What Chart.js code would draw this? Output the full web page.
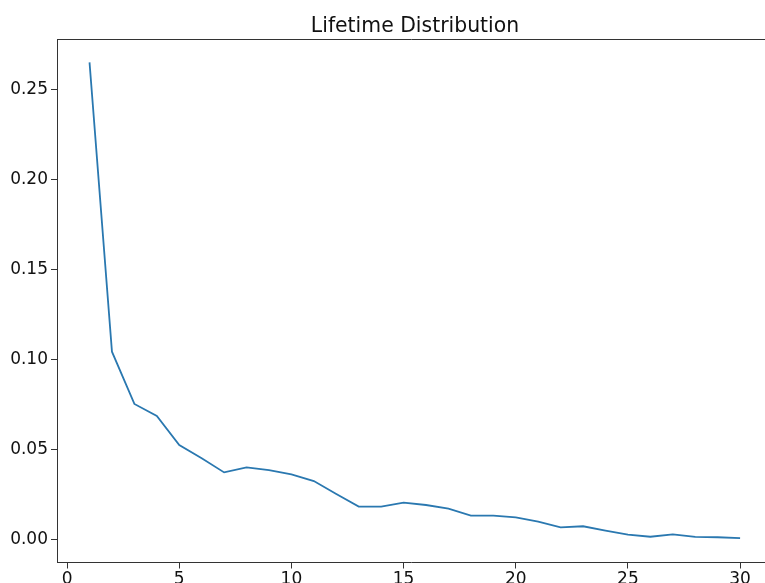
<!DOCTYPE html>
<html>
<head>
<meta charset="utf-8">
<script src="https://cdn.jsdelivr.net/npm/chart.js@4.4.1/dist/chart.umd.min.js"></script>
<style>
  html, body { margin: 0; padding: 0; background: #fff; overflow: hidden; }
</style>
</head>
<body>
<canvas id="lifetime" width="765" height="583"></canvas>
<script>
const days = [1, 2, 3, 4, 5, 6, 7, 8, 9, 10, 11, 12, 13, 14, 15,
              16, 17, 18, 19, 20, 21, 22, 23, 24, 25, 26, 27, 28, 29, 30];
const share = [0.265, 0.1045, 0.0755, 0.0688, 0.0527, 0.0453, 0.0375, 0.0403, 0.0388, 0.0364,
               0.0327, 0.0255, 0.0185, 0.0185, 0.0207, 0.0194, 0.0174, 0.0135, 0.0135, 0.0125,
               0.0102, 0.007, 0.0076, 0.0052, 0.003, 0.0018, 0.0031, 0.0017, 0.0015, 0.001];
const xTicks = [0, 5, 10, 15, 20, 25, 30];
const yTicks = [0, 0.05, 0.10, 0.15, 0.20, 0.25];

const points = days.map((d, i) => ({ x: d, y: share[i] }));
const tickFont = { family: 'DejaVu Sans', size: 17 };

// top frame line; the plot box runs off the right edge of the picture
const frame = {
  id: 'frame',
  afterDraw(chart) {
    const { ctx, chartArea } = chart;
    ctx.save();
    ctx.strokeStyle = '#333';
    ctx.lineWidth = 1;
    ctx.beginPath();
    ctx.moveTo(chartArea.left, chartArea.top + 0.5);
    ctx.lineTo(chartArea.right + 2, chartArea.top + 0.5);
    ctx.stroke();
    ctx.restore();
  }
};

// title centred over the whole (cropped) plot box
const title = {
  id: 'lifetimeTitle',
  afterDraw(chart) {
    const { ctx } = chart;
    ctx.save();
    ctx.fillStyle = '#111';
    ctx.font = '20.4px "DejaVu Sans"';
    ctx.textAlign = 'center';
    ctx.textBaseline = 'alphabetic';
    ctx.fillText('Lifetime Distribution', 415, 31.5);
    ctx.restore();
  }
};

new Chart(document.getElementById('lifetime'), {
  type: 'line',
  data: {
    datasets: [{
      label: 'Lifetime',
      data: points,
      borderColor: '#2a78b0',
      borderWidth: 1.8,
      pointRadius: 0,
      tension: 0,
      fill: false
    }]
  },
  options: {
    responsive: false,
    animation: false,
    layout: { padding: { left: 0, right: 0, top: 39, bottom: 0 } },
    scales: {
      x: {
        type: 'linear',
        min: -0.45,
        max: 31.11,
        afterBuildTicks: (scale) => { scale.ticks = xTicks.map(v => ({ value: v })); },
        afterFit: (scale) => { scale.height = 20.5; },
        ticks: { font: tickFont, color: '#111', padding: 1, maxRotation: 0 },
        grid: { drawOnChartArea: false, drawTicks: true, tickLength: 6, color: '#333' },
        border: { display: true, color: '#333', width: 1 }
      },
      y: {
        min: -0.0125,
        max: 0.278,
        afterBuildTicks: (scale) => { scale.ticks = yTicks.map(v => ({ value: v })); },
        afterFit: (scale) => { scale.width = 57; },
        ticks: {
          font: tickFont,
          color: '#111',
          padding: 3,
          callback: (v) => v.toFixed(2)
        },
        grid: { drawOnChartArea: false, drawTicks: true, tickLength: 6, color: '#333' },
        border: { display: true, color: '#333', width: 1 }
      }
    },
    plugins: {
      legend: { display: false },
      tooltip: { enabled: false },
      title: { display: false }
    }
  },
  plugins: [frame, title]
});
</script>
</body>
</html>
